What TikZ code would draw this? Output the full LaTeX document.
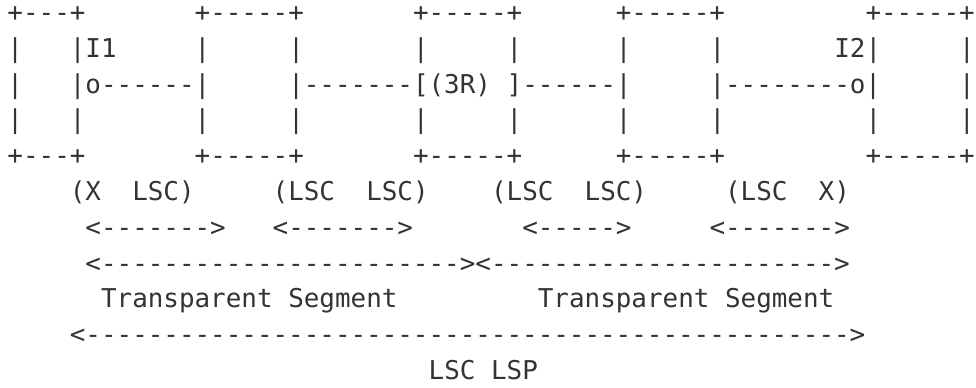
\documentclass[tikz,border=0pt]{standalone}
\usepackage{fontspec}
\setmonofont{DejaVu Sans Mono}
\definecolor{artgray}{HTML}{333333}
\begin{document}
\begin{tikzpicture}[x=11.7pt,y=-26.85pt,font=\fontsize{19.43}{26}\selectfont\ttfamily,
  ascii/.style={anchor=base west,inner sep=0pt,text=artgray}]
\useasboundingbox (-0.4615,-0.60) rectangle (62.10,10.21);
% boxes, top edge
\path (0,0) node(0_0) [ascii] {+---+};
\path (12,0) node(0_1) [ascii] {+-----+};
\path (26,0) node(0_2) [ascii] {+-----+};
\path (39,0) node(0_3) [ascii] {+-----+};
\path (55,0) node(0_4) [ascii] {+-----+};
% boxes, upper sides
\path (0,1) node(1_0) [ascii] {|};
\path (4,1) node(1_1) [ascii] {|I1};
\path (12,1) node(1_2) [ascii] {|};
\path (18,1) node(1_3) [ascii] {|};
\path (26,1) node(1_4) [ascii] {|};
\path (32,1) node(1_5) [ascii] {|};
\path (39,1) node(1_6) [ascii] {|};
\path (45,1) node(1_7) [ascii] {|};
\path (53,1) node(1_8) [ascii] {I2|};
\path (61,1) node(1_9) [ascii] {|};
% links
\path (0,2) node(2_0) [ascii] {|};
\path (4,2) node(2_1) [ascii] {|o------|};
\path (18,2) node(2_2) [ascii] {|-------[(3R)};
\path (32,2) node(2_3) [ascii] {]------|};
\path (45,2) node(2_4) [ascii] {|--------o|};
\path (61,2) node(2_5) [ascii] {|};
% boxes, lower sides
\path (0,3) node(3_0) [ascii] {|};
\path (4,3) node(3_1) [ascii] {|};
\path (12,3) node(3_2) [ascii] {|};
\path (18,3) node(3_3) [ascii] {|};
\path (26,3) node(3_4) [ascii] {|};
\path (32,3) node(3_5) [ascii] {|};
\path (39,3) node(3_6) [ascii] {|};
\path (45,3) node(3_7) [ascii] {|};
\path (55,3) node(3_8) [ascii] {|};
\path (61,3) node(3_9) [ascii] {|};
% boxes, bottom edge
\path (0,4) node(4_0) [ascii] {+---+};
\path (12,4) node(4_1) [ascii] {+-----+};
\path (26,4) node(4_2) [ascii] {+-----+};
\path (39,4) node(4_3) [ascii] {+-----+};
\path (55,4) node(4_4) [ascii] {+-----+};
% switching capabilities
\path (4,5) node(5_0) [ascii] {(X};
\path (8,5) node(5_1) [ascii] {LSC)};
\path (17,5) node(5_2) [ascii] {(LSC};
\path (23,5) node(5_3) [ascii] {LSC)};
\path (31,5) node(5_4) [ascii] {(LSC};
\path (37,5) node(5_5) [ascii] {LSC)};
\path (46,5) node(5_6) [ascii] {(LSC};
\path (52,5) node(5_7) [ascii] {X)};
% spans
\path (5,6) node(6_0) [ascii] {<------->};
\path (17,6) node(6_1) [ascii] {<------->};
\path (33,6) node(6_2) [ascii] {<----->};
\path (45,6) node(6_3) [ascii] {<------->};
\path (5,7) node(7_0) [ascii] {<----------------------->};
\path (30,7) node(7_1) [ascii] {<---------------------->};
\path (6,8) node(8_0) [ascii] {Transparent};
\path (18,8) node(8_1) [ascii] {Segment};
\path (34,8) node(8_2) [ascii] {Transparent};
\path (46,8) node(8_3) [ascii] {Segment};
\path (4,9) node(9_0) [ascii] {<------------------------------------------------->};
\path (27,10) node(10_0) [ascii] {LSC};
\path (31,10) node(10_1) [ascii] {LSP};
\end{tikzpicture}
\end{document}
